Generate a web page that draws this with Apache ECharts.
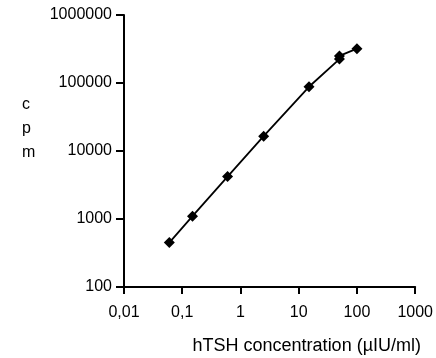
<!DOCTYPE html>
<html>
<head>
<meta charset="utf-8">
<script src="https://cdn.jsdelivr.net/npm/echarts@6/dist/echarts.min.js"></script>
<style>
  html, body { margin: 0; padding: 0; background: #fff; }
  #main { width: 436px; height: 358px; }
</style>
</head>
<body>
<div id="main"></div>
<script>
// hTSH standard curve (log-log)
var dose = [0.06, 0.15, 0.6, 2.5, 15, 50, 50, 100];
var cpm = [450, 1100, 4200, 16500, 88000, 225000, 250000, 320000];
var xTickLabels = ['0,01', '0,1', '1', '10', '100', '1000'];
var yTickLabels = ['100', '1000', '10000', '100000', '1000000'];

var points = dose.map(function (d, i) { return [d, cpm[i]]; });

var myChart = echarts.init(document.getElementById('main'));
var font = 'Liberation Sans, Arial, sans-serif';
option = {
    backgroundColor: '#fff',
    animation: false,
    grid: {
        left: 124,
        right: 20,
        top: 15,
        bottom: 71
    },
    xAxis: {
        type: 'log',
        logBase: 10,
        min: 0.01,
        max: 1000,
        splitLine: { show: false },
        axisLine: { lineStyle: { color: '#000', width: 2 } },
        axisTick: { length: 7, lineStyle: { color: '#000', width: 2 } },
        axisLabel: {
            color: '#000',
            fontFamily: font,
            fontSize: 16,
            margin: 18,
            formatter: function (v) {
                return xTickLabels[Math.round(Math.log10(v)) + 2];
            }
        },
        minorTick: { show: false }
    },
    yAxis: {
        type: 'log',
        logBase: 10,
        min: 100,
        max: 1000000,
        splitLine: { show: false },
        axisLine: { show: true, lineStyle: { color: '#000', width: 2 } },
        axisTick: { show: true, length: 8, lineStyle: { color: '#000', width: 2 } },
        axisLabel: {
            color: '#000',
            fontFamily: font,
            fontSize: 16,
            margin: 12,
            formatter: function (v) {
                return yTickLabels[Math.round(Math.log10(v)) - 2];
            }
        }
    },
    graphic: [
        {
            type: 'text',
            left: 22,
            top: 93,
            style: {
                text: 'c\np\nm',
                font: '16px ' + font,
                fill: '#000',
                lineHeight: 24
            }
        },
        {
            type: 'text',
            right: 15,
            top: 337,
            style: {
                text: 'hTSH concentration (µIU/ml)',
                font: '18px ' + font,
                fill: '#000'
            }
        }
    ],
    series: [
        {
            type: 'line',
            data: points,
            symbol: 'diamond',
            symbolSize: 11,
            lineStyle: { color: '#000', width: 1.8 },
            itemStyle: { color: '#000' }
        }
    ]
};

myChart.setOption(option);
</script>
</body>
</html>
